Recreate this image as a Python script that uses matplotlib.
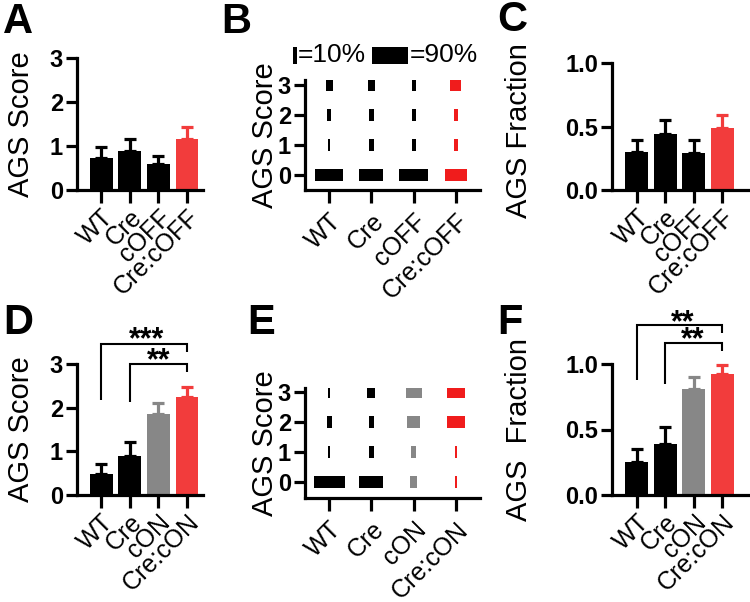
import numpy as np
import matplotlib
matplotlib.use('Agg')
import matplotlib.pyplot as plt

plt.rcParams['font.family'] = ['Liberation Sans', 'DejaVu Sans']

# ---- data ----
off_groups = ['WT', 'Cre', 'cOFF', 'Cre:cOFF']
on_groups = ['WT', 'Cre', 'cON', 'Cre:cON']

# A: AGS score (mean, sem), cOFF
a_mean = [0.73, 0.89, 0.58, 1.15]
a_sem = [0.25, 0.28, 0.19, 0.29]
# C: AGS fraction, cOFF
c_mean = [0.30, 0.44, 0.29, 0.49]
c_sem = [0.09, 0.11, 0.10, 0.10]
# D: AGS score, cON
d_mean = [0.48, 0.90, 1.86, 2.24]
d_sem = [0.23, 0.31, 0.25, 0.24]
# F: AGS fraction, cON
f_mean = [0.25, 0.39, 0.81, 0.925]
f_sem = [0.10, 0.13, 0.09, 0.065]

# B / E: percent of animals at score 0,1,2,3
scores = [0, 1, 2, 3]
b_pct = [[70, 4, 9, 17],
         [58, 12, 12, 18],
         [70, 10, 10, 10],
         [52, 10, 11, 27]]
e_pct = [[76, 6, 12, 6],
         [58, 11, 11, 20],
         [18, 13, 30, 39],
         [6, 6, 44, 44]]

BLACK = '#000000'
GRAY = '#878787'
RED = '#f23c3c'
RED2 = '#f01c1c'
off_colors = [BLACK, BLACK, BLACK, RED]
on_colors = [BLACK, BLACK, GRAY, RED]

W, H = 750, 602
fig = plt.figure(figsize=(7.5, 6.02), dpi=100)


def box(x0, x1, ytop, ybot):
    return [x0 / W, 1 - ybot / H, (x1 - x0) / W, (ybot - ytop) / H]


def style(ax, xticklen=9):
    for s in ['top', 'right']:
        ax.spines[s].set_visible(False)
    for s in ['left', 'bottom']:
        ax.spines[s].set_linewidth(2.3)
    ax.tick_params(axis='y', length=8, width=2.3, pad=2, labelsize=17)
    ax.tick_params(axis='x', length=xticklen, width=2.3, pad=2, labelsize=18)
    for t in ax.get_yticklabels():
        t.set_fontweight('bold')


def bars(ax, means, sems, colors, groups, ymax, ticks, fmt):
    x = np.arange(len(means))
    ax.bar(x, means, width=0.8, color=colors, zorder=2)
    for xi, m, e, c in zip(x, means, sems, colors):
        ax.errorbar(xi, m, yerr=[[0], [e]], fmt='none', ecolor=c,
                    elinewidth=2.3, capsize=4, capthick=2.3, clip_on=False, zorder=1)
    ax.set_xlim(-0.84, 3.56)
    ax.set_ylim(0, ymax)
    ax.set_yticks(ticks)
    ax.set_yticklabels([fmt.format(t) for t in ticks])
    ax.set_xticks(x)
    ax.set_xticklabels(groups, rotation=45, ha='right', va='top',
                       rotation_mode='anchor')
    style(ax)


def tiles(ax, pct, colors, groups):
    x = np.arange(len(pct))
    for xi, row, c in zip(x, pct, colors):
        w = np.array(row) / 100 * 0.97
        ax.bar([xi] * 4, [0.42] * 4, width=w, bottom=np.array(scores) - 0.21,
               color=c, zorder=2)
    ax.set_xlim(-0.57, 3.57)
    ax.set_yticks(scores)
    ax.set_xticks(x)
    ax.set_xticklabels(groups, rotation=45, ha='right', va='top',
                       rotation_mode='anchor')
    style(ax, xticklen=9)
    ax.tick_params(axis='x', pad=5)


def bracket(ax, x0, x1, top, l0, l1, text, tx, ty):
    ax.plot([x0, x0, x1, x1], [l0, top, top, l1], color='black', lw=1.5,
            clip_on=False, solid_capstyle='butt', solid_joinstyle='miter')
    ax.text(tx, ty, text, ha='center', va='center', fontsize=22,
            fontweight='bold', clip_on=False)


# A
axA = fig.add_axes(box(77, 203, 58, 190))
bars(axA, a_mean, a_sem, off_colors, off_groups, 3, [0, 1, 2, 3], '{:g}')
axA.set_ylabel('AGS Score', fontsize=21)
axA.yaxis.set_label_coords(-0.33, 0.5)

# B
axB = fig.add_axes(box(305, 480, 80, 190))
tiles(axB, b_pct, [BLACK, BLACK, BLACK, RED2], off_groups)
axB.set_ylim(-0.5, 3.17)
axB.set_ylabel('AGS Score', fontsize=21)
axB.yaxis.set_label_coords(-0.15, 0.5)
# size legend
axB.bar([-0.8], [0.55], width=0.10 * 0.97, bottom=3.72, color=BLACK, clip_on=False)
axB.text(-0.73, 4.0, '=10%', fontsize=19, va='center', ha='left')
axB.bar([1.44], [0.55], width=0.90 * 0.97, bottom=3.72, color=BLACK, clip_on=False)
axB.text(1.9, 4.0, '=90%', fontsize=19, va='center', ha='left')

# C
axC = fig.add_axes(box(612, 748, 63, 190))
bars(axC, c_mean, c_sem, off_colors, off_groups, 1.0, [0.0, 0.5, 1.0], '{:.1f}')
axC.set_xlim(-0.86, 3.9)
axC.set_ylabel('AGS Fraction', fontsize=21)
axC.yaxis.set_label_coords(-0.58, 0.47)

# D
axD = fig.add_axes(box(77, 203, 364, 495))
bars(axD, d_mean, d_sem, on_colors, on_groups, 3, [0, 1, 2, 3], '{:g}')
axD.set_ylabel('AGS Score', fontsize=21)
axD.yaxis.set_label_coords(-0.33, 0.5)
bracket(axD, 0, 3, 3.46, 2.18, 3.28, '***', 1.6, 3.55)
bracket(axD, 1, 3, 3.0, 2.14, 2.82, '**', 2.0, 3.06)

# E
axE = fig.add_axes(box(305, 480, 388, 498))
tiles(axE, e_pct, [BLACK, BLACK, GRAY, RED2], on_groups)
axE.set_ylim(-0.53, 3.13)
axE.set_ylabel('AGS Score', fontsize=21)
axE.yaxis.set_label_coords(-0.15, 0.5)

# F
axF = fig.add_axes(box(612, 748, 364, 495))
bars(axF, f_mean, f_sem, on_colors, on_groups, 1.0, [0.0, 0.5, 1.0], '{:.1f}')
axF.set_xlim(-0.86, 3.9)
axF.set_ylabel('AGS  Fraction', fontsize=21)
axF.yaxis.set_label_coords(-0.58, 0.5)
bracket(axF, 0, 3, 1.30, 0.88, 1.24, '**', 1.63, 1.31)
bracket(axF, 1, 3, 1.16, 0.85, 1.10, '**', 1.98, 1.18)

# panel letters
for lab, (px, py) in zip('ABCDEF', [(3, 2), (221, 2), (497, 0), (3, 303), (247, 303), (497, 303)]):
    fig.text(px / W, 1 - py / H, lab, fontsize=30, fontweight='bold', va='top', ha='left')

fig.savefig('out.png', dpi=100)
